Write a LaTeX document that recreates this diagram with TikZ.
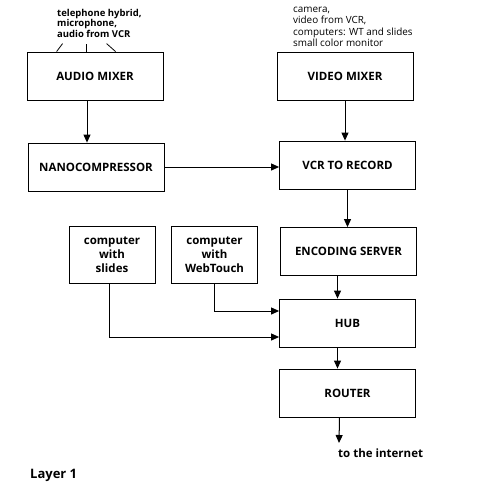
\documentclass[tikz,border=0pt]{standalone}
\usepackage{fontspec}
\setmainfont{Open Sans}
\usetikzlibrary{arrows.meta}
\begin{document}
\begin{tikzpicture}[x=1pt,y=-1pt,
    box/.style={draw,line width=0.8pt,minimum width=136pt,minimum height=48pt,font=\fontsize{11.5}{13}\selectfont\bfseries},
    pcbox/.style={draw,line width=0.8pt,minimum width=86pt,minimum height=57pt,align=center,font=\fontsize{11.5}{14}\selectfont\bfseries},
    flow/.style={line width=1pt,-{Triangle[length=8pt,width=7pt]}},
    wire/.style={line width=0.8pt}]
  \useasboundingbox (0,0) rectangle (500,500);
  \node[box] (audio) at (95,76) {AUDIO MIXER};
  \node[box] (nano) at (96,167) {NANOCOMPRESSOR};
  \node[box] (video) at (345,76) {VIDEO MIXER};
  \node[box] (vcr) at (347.5,165) {VCR TO RECORD};
  \node[box] (encoder) at (348.5,251.5) {ENCODING SERVER};
  \node[box] (hub) at (347.5,323) {HUB};
  \node[box] (router) at (347.5,393) {ROUTER};
  \node[pcbox] (slides) at (112,254.5) {computer\\with\\slides};
  \node[pcbox] (webtouch) at (214.5,254.5) {computer\\with\\WebTouch};
  \node[anchor=north west,align=left,inner sep=0pt,font=\fontsize{9.5}{10.5}\selectfont\bfseries] (audioin) at (57,9) {telephone hybrid,\\microphone,\\audio from VCR};
  \node[anchor=north west,align=left,inner sep=0pt,font=\fontsize{9.9}{11.3}\selectfont] (videoin) at (293,7) {camera,\\video from VCR,\\computers: WT and slides\\small color monitor};
  \node[anchor=north west,inner sep=0pt,font=\fontsize{11.5}{13}\selectfont\bfseries] (inet) at (338,448.5) {to the internet};
  \node[anchor=west,inner sep=0pt,font=\fontsize{13}{15}\selectfont\bfseries] (layer) at (30,475) {Layer 1};
  \coordinate (out) at (339,443);
  \draw[wire] ([xshift=30pt]audio.north west) -- ++(6,-8);
  \draw[wire] ([xshift=60pt]audio.north west) -- ++(0,-8);
  \draw[wire] ([xshift=89pt]audio.north west) -- ++(-9,-8);
  \draw[flow] ([xshift=-8pt]audio.south) -- ([xshift=-8pt]audio.south |- nano.north);
  \draw[flow] (video.south) -- (video.south |- vcr.north);
  \draw[flow] (nano.east) -- (vcr.west |- nano.east);
  \draw[flow] (vcr.south) -- (vcr.south |- encoder.north);
  \draw[flow] ([xshift=-11pt]encoder.south) -- ([xshift=-11pt]encoder.south |- hub.north);
  \draw[flow] ([xshift=-10pt]hub.south) -- ([xshift=-10pt]hub.south |- router.north);
  \draw[flow] ([xshift=-8pt]router.south) -- (out);
  \draw[flow] ([xshift=-3pt]slides.south) |- ([yshift=-14pt]hub.west);
  \draw[flow] (webtouch.south) |- ([yshift=12pt]hub.west);
\end{tikzpicture}
\end{document}
